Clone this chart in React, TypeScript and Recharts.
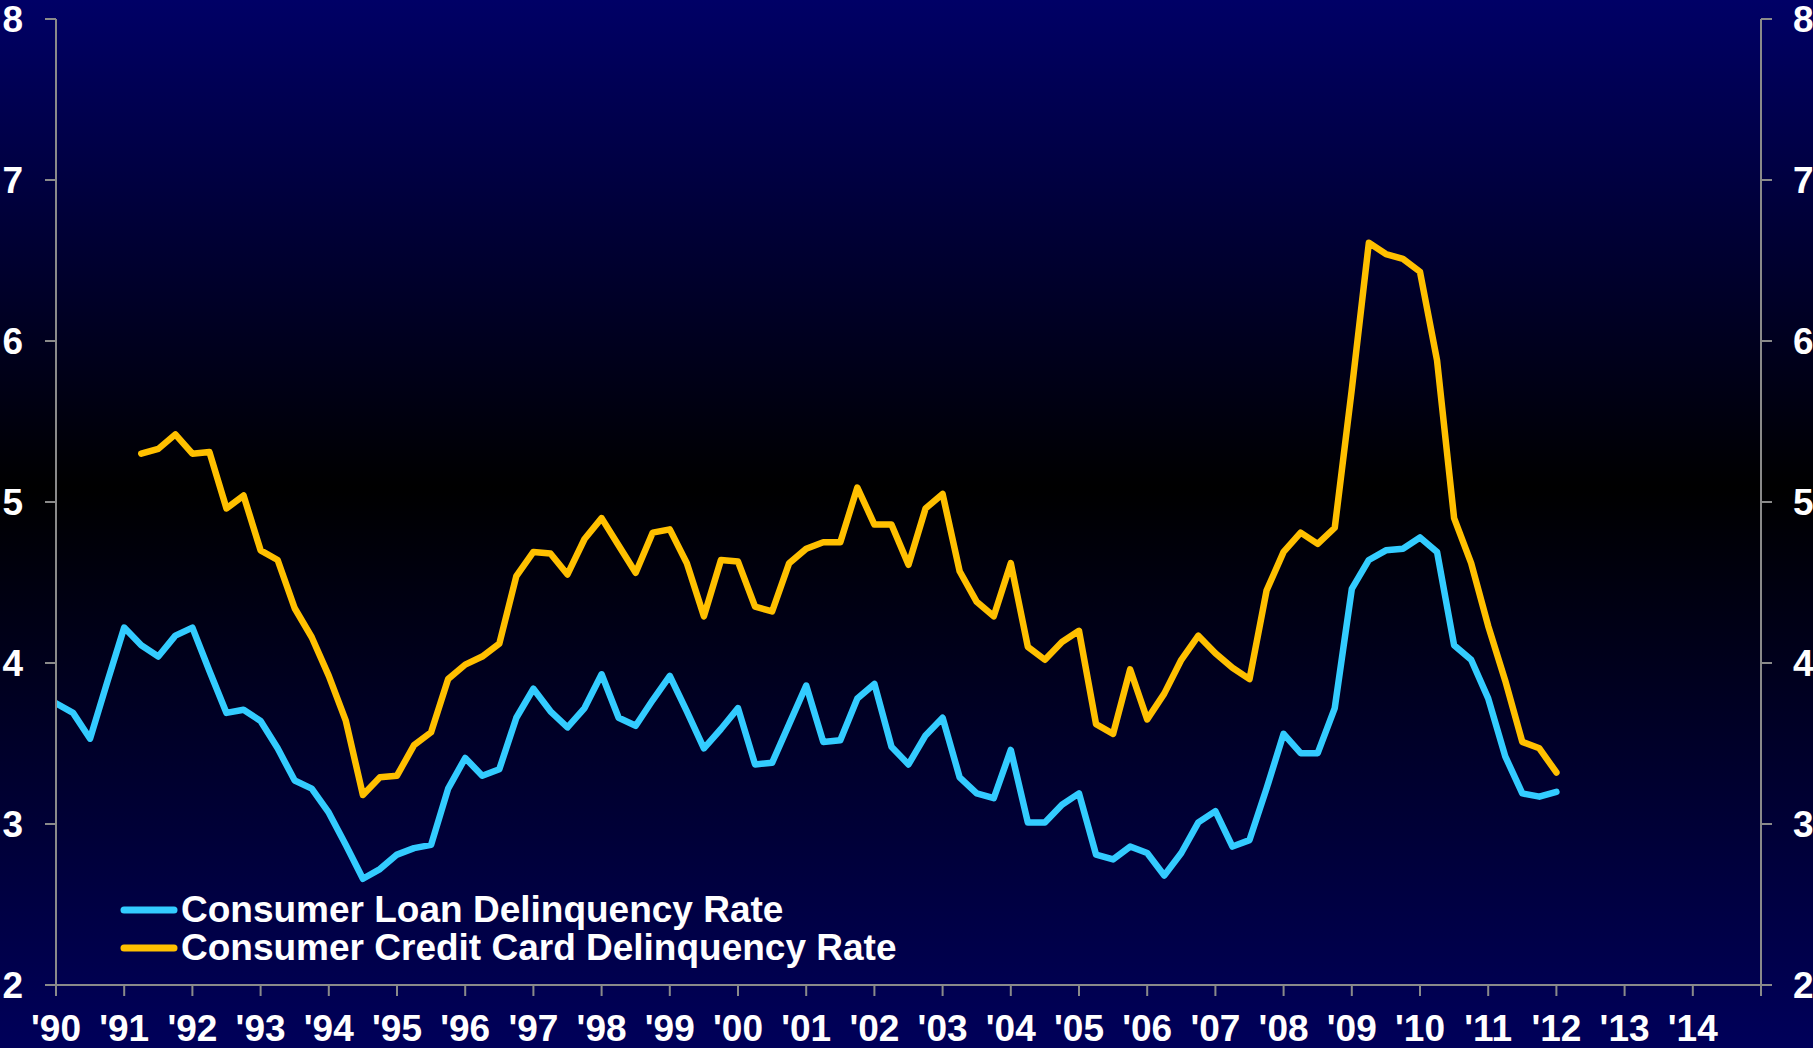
import React from 'react';
import { LineChart, Line, XAxis, YAxis, Legend } from 'recharts';

const FONT = '"Liberation Sans", Arial, Helvetica, sans-serif';

// Quarterly observations starting 1990 Q1
const startYear = 1990;

const loanRate: (number | null)[] = [
  3.75, 3.69, 3.53, 3.88,
  4.22, 4.11, 4.04, 4.17,
  4.22, 3.95, 3.69, 3.71,
  3.64, 3.47, 3.27, 3.22,
  3.07, 2.87, 2.66, 2.72,
  2.81, 2.85, 2.87, 3.22,
  3.41, 3.30, 3.34, 3.66,
  3.84, 3.70, 3.60, 3.72,
  3.93, 3.66, 3.61, 3.77,
  3.92, 3.70, 3.47, 3.59,
  3.72, 3.37, 3.38, 3.62,
  3.86, 3.51, 3.52, 3.78,
  3.87, 3.48, 3.37, 3.55,
  3.66, 3.29, 3.19, 3.16,
  3.46, 3.01, 3.01, 3.12,
  3.19, 2.81, 2.78, 2.86,
  2.82, 2.68, 2.82, 3.01,
  3.08, 2.86, 2.90, 3.22,
  3.56, 3.44, 3.44, 3.72,
  4.46, 4.64, 4.70, 4.71,
  4.78, 4.69, 4.11, 4.02,
  3.78, 3.42, 3.19, 3.17,
  3.20,
];

const cardRate: (number | null)[] = [
  null, null, null, null,
  null, 5.30, 5.33, 5.42,
  5.30, 5.31, 4.96, 5.04,
  4.70, 4.64, 4.34, 4.16,
  3.92, 3.64, 3.18, 3.29,
  3.30, 3.49, 3.57, 3.90,
  3.99, 4.04, 4.12, 4.54,
  4.69, 4.68, 4.55, 4.77,
  4.90, 4.73, 4.56, 4.81,
  4.83, 4.62, 4.29, 4.64,
  4.63, 4.35, 4.32, 4.62,
  4.71, 4.75, 4.75, 5.09,
  4.86, 4.86, 4.61, 4.96,
  5.05, 4.57, 4.38, 4.29,
  4.62, 4.10, 4.02, 4.13,
  4.20, 3.62, 3.56, 3.96,
  3.65, 3.81, 4.02, 4.17,
  4.06, 3.97, 3.90, 4.45,
  4.69, 4.81, 4.74, 4.84,
  5.70, 6.61, 6.54, 6.51,
  6.43, 5.88, 4.90, 4.62,
  4.23, 3.89, 3.51, 3.47,
  3.32,
];

const yearTicks = [
  1990, 1991, 1992, 1993, 1994, 1995, 1996, 1997, 1998, 1999, 2000, 2001, 2002,
  2003, 2004, 2005, 2006, 2007, 2008, 2009, 2010, 2011, 2012, 2013, 2014, 2015,
];
const yearLabels = [
  "'90", "'91", "'92", "'93", "'94", "'95", "'96", "'97", "'98", "'99", "'00", "'01", "'02",
  "'03", "'04", "'05", "'06", "'07", "'08", "'09", "'10", "'11", "'12", "'13", "'14", '',
];
const valueTicks = [2, 3, 4, 5, 6, 7, 8];

const seriesNames = ['Consumer Loan Delinquency Rate', 'Consumer Credit Card Delinquency Rate'];
const seriesColors = ['#33CCFF', '#FFC000'];

const data = loanRate.map((v, i) => ({
  t: startYear + i / 4,
  loan: v,
  card: cardRate[i],
}));

const AXIS_COLOR = '#8a8a8a';
const tickStyle = { fill: '#ffffff', fontSize: 37, fontWeight: 700, fontFamily: FONT };

const renderLegend = (props: any) => {
  const payload = [...(props.payload || [])].sort(
    (a: any, b: any) => seriesNames.indexOf(a.value) - seriesNames.indexOf(b.value)
  );
  return (
    <div style={{ fontFamily: FONT }}>
      {payload.map((entry: any) => (
        <div
          key={entry.value}
          style={{ display: 'flex', alignItems: 'center', height: 38, lineHeight: '38px' }}
        >
          <svg width={58} height={10} style={{ display: 'block', marginRight: 3 }}>
            <line
              x1={4}
              y1={5}
              x2={54}
              y2={5}
              stroke={entry.color}
              strokeWidth={7}
              strokeLinecap="round"
            />
          </svg>
          <span style={{ color: '#ffffff', fontSize: 37, fontWeight: 700, whiteSpace: 'nowrap' }}>
            {entry.value}
          </span>
        </div>
      ))}
    </div>
  );
};

export default function App() {
  return (
    <div
      style={{
        position: 'absolute',
        left: 0,
        top: 0,
        width: 1813,
        height: 1048,
        background: 'linear-gradient(to bottom, #000066 0%, #000000 46.5%, #00005A 100%)',
      }}
    >
      <LineChart
        width={1813}
        height={1048}
        data={data}
        margin={{ top: 19, right: 0, bottom: 0, left: 0 }}
      >
        <XAxis
          dataKey="t"
          type="number"
          domain={[1990, 2015]}
          ticks={yearTicks}
          interval={0}
          tickFormatter={(v: number) => yearLabels[yearTicks.indexOf(v)] ?? ''}
          tickSize={11}
          tickMargin={19}
          height={63}
          axisLine={{ stroke: AXIS_COLOR, strokeWidth: 2 }}
          tickLine={{ stroke: AXIS_COLOR, strokeWidth: 2 }}
          tick={tickStyle}
          allowDataOverflow
        />
        <YAxis
          yAxisId="left"
          orientation="left"
          domain={[2, 8]}
          ticks={valueTicks}
          interval={0}
          width={56}
          tickSize={11}
          tickMargin={22}
          axisLine={{ stroke: AXIS_COLOR, strokeWidth: 2 }}
          tickLine={{ stroke: AXIS_COLOR, strokeWidth: 2 }}
          tick={tickStyle}
          allowDataOverflow
        />
        <YAxis
          yAxisId="right"
          orientation="right"
          domain={[2, 8]}
          ticks={valueTicks}
          interval={0}
          width={52}
          tickSize={11}
          tickMargin={21}
          axisLine={{ stroke: AXIS_COLOR, strokeWidth: 2 }}
          tickLine={{ stroke: AXIS_COLOR, strokeWidth: 2 }}
          tick={{ ...tickStyle, textAnchor: 'start' }}
          allowDataOverflow
        />
        <Legend
          layout="horizontal"
          verticalAlign="middle"
          align="center"
          itemSorter={null as any}
          content={renderLegend}
          wrapperStyle={{ left: 120, top: 891, width: 820, height: 76 }}
        />
        <Line
          yAxisId="left"
          type="linear"
          dataKey="loan"
          name={seriesNames[0]}
          stroke={seriesColors[0]}
          strokeWidth={6.5}
          strokeLinejoin="round"
          strokeLinecap="round"
          dot={false}
          activeDot={false}
          isAnimationActive={false}
        />
        <Line
          yAxisId="left"
          type="linear"
          dataKey="card"
          name={seriesNames[1]}
          stroke={seriesColors[1]}
          strokeWidth={6.5}
          strokeLinejoin="round"
          strokeLinecap="round"
          dot={false}
          activeDot={false}
          isAnimationActive={false}
        />
      </LineChart>
    </div>
  );
}
